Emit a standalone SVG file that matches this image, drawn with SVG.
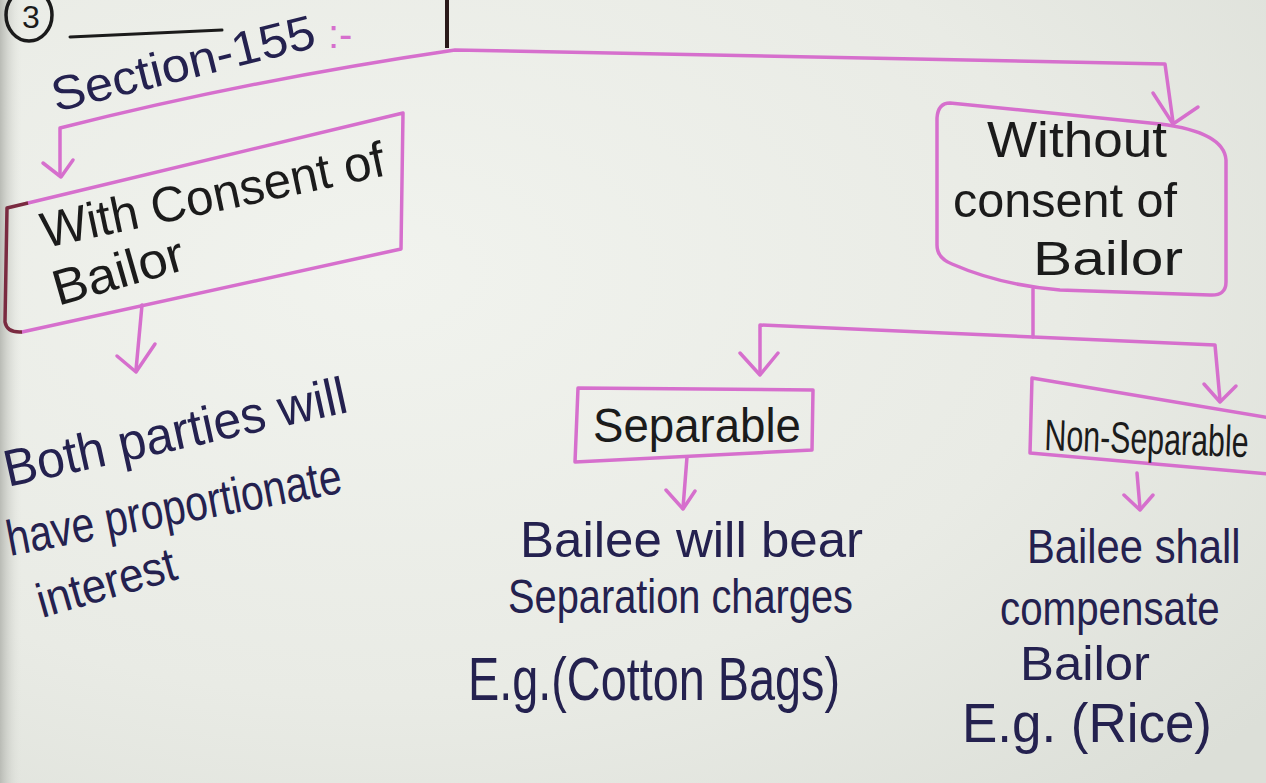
<svg xmlns="http://www.w3.org/2000/svg" width="1266" height="783" viewBox="0 0 1266 783">
<defs>
<radialGradient id="paper" cx="0.3" cy="0.35" r="0.9">
<stop offset="0" stop-color="#f1f3ee"/>
<stop offset="0.6" stop-color="#e9ebe5"/>
<stop offset="1" stop-color="#dcdfd8"/>
</radialGradient>
<linearGradient id="edge" x1="0" y1="0" x2="1" y2="0">
<stop offset="0" stop-color="#b9bbb5"/>
<stop offset="1" stop-color="#e4e6e0" stop-opacity="0"/>
</linearGradient>
<style>
.pk{fill:none;stroke:#d66fcd;stroke-width:3.5;stroke-linecap:round;stroke-linejoin:round}
.ink{fill:#1b1b1b;font-family:"Liberation Sans",Arial,sans-serif}
.nv{fill:#24214f;font-family:"Liberation Sans",Arial,sans-serif}
</style>
</defs>
<rect width="1266" height="783" fill="url(#paper)"/>
<rect x="0" y="0" width="22" height="783" fill="url(#edge)"/>

<g id="header">
<ellipse cx="29" cy="15" rx="23" ry="26" fill="none" stroke="#1b1b1b" stroke-width="3.5"/>
<text class="ink" x="31" y="28" font-size="32" text-anchor="middle">3</text>
<line x1="70" y1="37" x2="222" y2="30" stroke="#1b1b1b" stroke-width="3" stroke-linecap="round"/>
<line x1="447" y1="0" x2="447" y2="48" stroke="#2a1a1a" stroke-width="4"/>
<text class="nv" x="56" y="112" font-size="48" textLength="270" lengthAdjust="spacingAndGlyphs" transform="rotate(-14 56 112)">Section-155</text>
<text x="328" y="48" font-size="40" fill="#d66fcd" font-family="Liberation Sans,Arial,sans-serif">:-</text>
</g>

<g id="connectors">
<path class="pk" d="M60,175 L60,128 Q250,80 455,50 L1165,64 L1173,122"/>
<polyline class="pk" points="43,163 61,177 73,160"/>
<polyline class="pk" points="1153,93 1173,124 1198,107"/>
<path class="pk" d="M142,305 L136,370"/>
<polyline class="pk" points="117,356 136,372 155,344"/>
<path class="pk" d="M1033,289 L1033,337"/>
<path class="pk" d="M760,372 L760,325 L1215,345 L1220,400"/>
<polyline class="pk" points="740,353 760,375 778,353"/>
<polyline class="pk" points="1204,384 1220,402 1236,386"/>
<path class="pk" d="M687,457 L683,508"/>
<polyline class="pk" points="666,490 683,509 695,491"/>
<path class="pk" d="M1137,473 L1140,508"/>
<polyline class="pk" points="1124,495 1140,510 1153,495"/>
</g>

<g id="with-consent">
<path class="pk" d="M28,203 L403,113 L401,249 L22,332"/>
<path d="M28,203 L7,208 L5,322 Q7,333 22,332" fill="none" stroke="#7a2a40" stroke-width="3.5" stroke-linejoin="round"/>
<text class="ink" x="45" y="248" font-size="50" textLength="350" lengthAdjust="spacingAndGlyphs" transform="rotate(-12 45 248)">With Consent of</text>
<text class="ink" x="58" y="306" font-size="50" textLength="135" lengthAdjust="spacingAndGlyphs" transform="rotate(-16 58 306)">Bailor</text>
</g>

<g id="both-parties">
<text class="nv" x="8" y="487" font-size="52" textLength="350" lengthAdjust="spacingAndGlyphs" transform="rotate(-12.4 8 487)">Both parties will</text>
<text class="nv" x="10" y="556" font-size="50" textLength="340" lengthAdjust="spacingAndGlyphs" transform="rotate(-10.8 10 556)">have proportionate</text>
<text class="nv" x="42" y="618" font-size="48" textLength="143" lengthAdjust="spacingAndGlyphs" transform="rotate(-16 42 618)">interest</text>
</g>

<g id="without-consent">
<path class="pk" d="M950,103 L1160,124 Q1224,132 1226,160 L1226,282 Q1226,296 1210,295 L1060,290 Q1000,285 952,264 Q937,258 937,245 L937,118 Q938,103 950,103 Z"/>
<text class="ink" x="987" y="157" font-size="50" textLength="180" lengthAdjust="spacingAndGlyphs">Without</text>
<text class="ink" x="953" y="217" font-size="48" textLength="224" lengthAdjust="spacingAndGlyphs">consent of</text>
<text class="ink" x="1033" y="275" font-size="48" textLength="150" lengthAdjust="spacingAndGlyphs">Bailor</text>
</g>

<g id="separable">
<path class="pk" d="M578,388 L813,390 L812,450 L575,462 Z"/>
<text class="ink" x="593" y="442" font-size="48" textLength="208" lengthAdjust="spacingAndGlyphs">Separable</text>
</g>

<g id="separable-result">
<text class="nv" x="520" y="557" font-size="50" textLength="343" lengthAdjust="spacingAndGlyphs">Bailee will bear</text>
<text class="nv" x="508" y="613" font-size="48" textLength="345" lengthAdjust="spacingAndGlyphs">Separation charges</text>
<text class="nv" x="468" y="700" font-size="62" textLength="372" lengthAdjust="spacingAndGlyphs">E.g.(Cotton Bags)</text>
</g>

<g id="non-separable">
<path class="pk" d="M1270,418 L1032,378 L1030,453 L1270,474"/>
<text class="ink" x="0" y="0" font-size="44" transform="translate(1044 450) rotate(2) scale(0.69 1)">Non-Separable</text>
</g>

<g id="non-separable-result">
<text class="nv" x="0" y="0" font-size="48" transform="translate(1027 563) scale(0.87 1)">Bailee shall</text>
<text class="nv" x="0" y="0" font-size="48" transform="translate(1000 625) scale(0.84 1)">compensate</text>
<text class="nv" x="1020" y="680" font-size="48" textLength="130" lengthAdjust="spacingAndGlyphs">Bailor</text>
<text class="nv" x="962" y="742" font-size="56" textLength="250" lengthAdjust="spacingAndGlyphs">E.g. (Rice)</text>
</g>
</svg>
